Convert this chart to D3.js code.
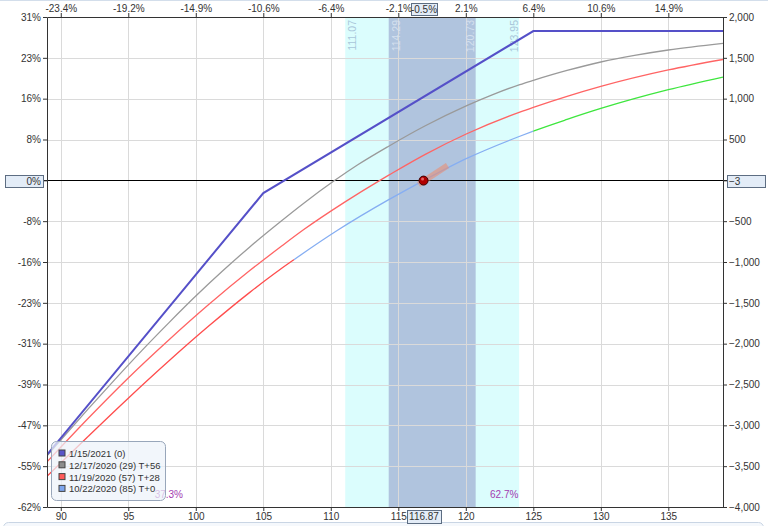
<!DOCTYPE html>
<html><head><meta charset="utf-8">
<script src="https://cdn.jsdelivr.net/npm/d3@7"></script>
<style>body{margin:0;background:#fff;} svg{display:block;font-family:"Liberation Sans",Arial,sans-serif;}</style>
</head><body><svg id="c" width="768" height="526"></svg>
<script>
// ---- data ----
const priceTicks = [90,95,100,105,110,115,120,125,130,135];
const topTickLabels = ["-23.4%","-19.2%","-14.9%","-10.6%","-6.4%","-2.1%","2.1%","6.4%","10.6%","14.9%"];
const pnlTicks = [2000,1500,1000,500,0,-500,-1000,-1500,-2000,-2500,-3000,-3500,-4000];
const pctTickLabels = ["31%","23%","16%","8%","0%","-8%","-16%","-23%","-31%","-39%","-47%","-55%","-62%"];

const expPrices = [89, 105, 125, 139.05];
const expValues = [-3356, -156, 1828, 1828];

const t56Prices = [89, 90, 92, 94, 96, 98, 100, 102, 104, 106.24, 108, 110.3, 112, 114.26, 117, 120.07, 122, 124, 125, 127.5, 130, 132.5, 135, 139.05];
const t56Values = [-3370, -3180, -2805, -2440, -2085, -1745, -1417, -1108, -815, -510, -280, 0, 190, 415, 668, 915, 1050, 1172, 1224, 1345, 1449, 1530, 1596, 1677];

const t28Prices = [89, 92, 95, 98, 101, 104, 106.24, 108, 111, 113.64, 114.26, 117, 120.07, 124, 125, 127.5, 130, 135, 139.05];
const t28Values = [-3445, -2920, -2420, -1955, -1515, -1105, -820, -603, -270, 0, 60, 318, 570, 835, 893, 1028, 1150, 1352, 1480];

const t0Prices = [89, 92, 95, 98, 101, 104, 106.24, 107.27, 110.5, 114.26, 116.87, 120.07, 124, 125, 127.5, 130, 135, 139.05];
const t0Values = [-3620, -3140, -2668, -2213, -1779, -1372, -1092, -972, -612, -240, -3, 268, 540, 603, 746, 880, 1110, 1265];
const t0ColorBreaks = [107.27, 125];

const sd1 = [114.29, 120.73];
const sd2 = [111.07, 123.95];
const currentPrice = 116.87;
const currentPnl = -3;
const currentPct = "-0.5%";
const currentPctLeft = "0%";
const probBelow = "37.3%";
const probAbove = "62.7%";

const legendLabels = ["1/15/2021 (0)","12/17/2020 (29) T+56","11/19/2020 (57) T+28","10/22/2020 (85) T+0"];
const legendColors = ["#5a55c8","#8c8c8c","#ff5a5a","#7ea6ee"];

// ---- drawing ----
const svg = d3.select("#c");
const L = 47, R = 723, T = 17, B = 507;
const x = d3.scaleLinear().domain([88.98, 139.05]).range([L, R]);
const y = d3.scaleLinear().domain([-4000, 2000]).range([B, T]);

// decorative frame bits
svg.append("line").attr("x1",0).attr("x2",768).attr("y1",0.5).attr("y2",0.5).attr("stroke","#d3deeb");
svg.append("rect").attr("x",3.5).attr("y",522.5).attr("width",760).attr("height",12).attr("rx",5)
  .attr("fill","#f5f8fc").attr("stroke","#c9d5e4");

// bands
svg.append("rect").attr("x",x(sd2[0])).attr("y",T).attr("width",x(sd2[1])-x(sd2[0])).attr("height",B-T).attr("fill","#dbfdfd");
svg.append("rect").attr("x",x(sd1[0])).attr("y",T).attr("width",x(sd1[1])-x(sd1[0])).attr("height",B-T).attr("fill","#b0c4de");

// grid
const grid = svg.append("g").attr("stroke","#dadada").attr("stroke-width",1);
priceTicks.forEach(p => grid.append("line").attr("x1",Math.round(x(p))+0.5).attr("x2",Math.round(x(p))+0.5).attr("y1",T).attr("y2",B));
pnlTicks.forEach(v => grid.append("line").attr("x1",L).attr("x2",R).attr("y1",Math.round(y(v))+0.5).attr("y2",Math.round(y(v))+0.5));

// band labels
const bandLabels = [
  {v: sd2[0], side: "l", c: "#a9c6da"},
  {v: sd1[0], side: "l", c: "#d4e0ee"},
  {v: sd1[1], side: "r", c: "#d4e0ee"},
  {v: sd2[1], side: "r", c: "#a9c6da"}
];
bandLabels.forEach(b => {
  const bx = b.side === "l" ? x(b.v) + 11 : x(b.v) - 1.5;
  svg.append("text").attr("transform",`translate(${bx},20) rotate(-90)`)
    .attr("text-anchor","end").attr("font-size",10.5).attr("fill",b.c).text(b.v.toFixed(2));
});

// zero line
svg.append("line").attr("x1",43).attr("x2",727).attr("y1",Math.round(y(0))+0.5).attr("y2",Math.round(y(0))+0.5)
  .attr("stroke","#000").attr("stroke-width",1);

// lines
const line = d3.line().x(d => x(d[0])).y(d => y(d[1])).curve(d3.curveMonotoneX);
const defs = svg.append("defs");
defs.append("clipPath").attr("id","plot").append("rect").attr("x",L).attr("y",T).attr("width",R-L).attr("height",B-T);
const plot = svg.append("g").attr("clip-path","url(#plot)");

const zip = (a,b) => a.map((p,i)=>[p,b[i]]);

// T+0 segmented by colour
const segs = [
  {id:"s0", x0: x.domain()[0], x1: t0ColorBreaks[0], c:"#ff4d4d"},
  {id:"s1", x0: t0ColorBreaks[0], x1: t0ColorBreaks[1], c:"#86aef2"},
  {id:"s2", x0: t0ColorBreaks[1], x1: x.domain()[1], c:"#3ee63e"}
];
segs.forEach(s => {
  defs.append("clipPath").attr("id",s.id).append("rect")
    .attr("x",x(s.x0)).attr("y",T).attr("width",x(s.x1)-x(s.x0)).attr("height",B-T);
  plot.append("g").attr("clip-path",`url(#${s.id})`).append("path")
    .attr("d",line(zip(t0Prices,t0Values))).attr("fill","none").attr("stroke",s.c).attr("stroke-width",1.3);
});
plot.append("path").attr("d",line(zip(t28Prices,t28Values))).attr("fill","none").attr("stroke","#ff6464").attr("stroke-width",1.3);
plot.append("path").attr("d",line(zip(t56Prices,t56Values))).attr("fill","none").attr("stroke","#9a9a9a").attr("stroke-width",1.3);
plot.append("path").attr("d",d3.line().x(d=>x(d[0])).y(d=>y(d[1]))(zip(expPrices,expValues)))
  .attr("fill","none").attr("stroke","#5550c8").attr("stroke-width",2);

// current marker
const cx = x(currentPrice), cy = y(currentPnl);
svg.append("line").attr("x1",cx-5).attr("y1",cy+4).attr("x2",cx+24).attr("y2",cy-15)
  .attr("stroke","#f08a6a").attr("stroke-opacity",0.55).attr("stroke-width",6).attr("stroke-linecap","butt");
svg.append("circle").attr("cx",cx).attr("cy",cy).attr("r",4.5).attr("fill","#b00000").attr("stroke","#3a0000").attr("stroke-width",1);
svg.append("circle").attr("cx",cx-1).attr("cy",cy-1.5).attr("r",1.5).attr("fill","#ff8a8a").attr("opacity",0.7);

// axes
function styleAxis(g){
  g.selectAll("path.domain").attr("stroke","#333");
  g.selectAll(".tick line").attr("stroke","#333");
  g.selectAll(".tick text").attr("fill","#333").attr("font-size",10).attr("font-family","Liberation Sans, Arial, sans-serif");
}
const gl = svg.append("g").attr("transform",`translate(${L},0)`)
  .call(d3.axisLeft(y).tickValues(pnlTicks).tickFormat((d,i)=>pctTickLabels[i]).tickSize(4).tickSizeOuter(0).tickPadding(2));
styleAxis(gl);
const gr = svg.append("g").attr("transform",`translate(${R},0)`)
  .call(d3.axisRight(y).tickValues(pnlTicks).tickFormat(d3.format(",")).tickSize(4).tickSizeOuter(0).tickPadding(2));
styleAxis(gr);
const gb = svg.append("g").attr("transform",`translate(0,${B})`)
  .call(d3.axisBottom(x).tickValues(priceTicks).tickFormat(d3.format("d")).tickSize(4).tickSizeOuter(0).tickPadding(2));
styleAxis(gb);
const gt = svg.append("g").attr("transform",`translate(0,${T})`)
  .call(d3.axisTop(x).tickValues(priceTicks).tickFormat((d,i)=>topTickLabels[i]).tickSize(4).tickSizeOuter(0).tickPadding(1));
styleAxis(gt);
gl.selectAll(".tick").filter(d=>d===0).select("text").attr("opacity",0);
gr.selectAll(".tick").filter(d=>d===0).select("text").attr("opacity",0);

// value boxes
function box(bx, by, w, h, txt, anchor){
  svg.append("rect").attr("x",bx+0.5).attr("y",by+0.5).attr("width",w).attr("height",h)
    .attr("fill","#e3ecf7").attr("stroke","#5d6d82").attr("stroke-width",1);
  const tx = anchor==="end" ? bx+w-2 : anchor==="middle" ? bx+w/2 : bx+2;
  svg.append("text").attr("x",tx).attr("y",by+h/2+3.6).attr("text-anchor",anchor)
    .attr("font-size",10).attr("fill","#333").text(txt);
}
box(5, Math.round(cy)-6, 38, 12, currentPctLeft, "end");
box(727, Math.round(cy)-6, 38, 12, d3.format(",")(currentPnl), "start");
box(Math.round(cx)-13, 3, 26, 12, currentPct, "middle");
box(Math.round(cx)-17, 510, 34, 13, currentPrice.toFixed(2), "middle");

// probabilities
svg.append("text").attr("x",183).attr("y",498).attr("text-anchor","end").attr("font-size",10).attr("fill","#a33ab0").text(probBelow);
svg.append("text").attr("x",490).attr("y",498).attr("text-anchor","start").attr("font-size",10).attr("fill","#a33ab0").text(probAbove);

// legend
const lg = svg.append("g").attr("transform","translate(51.5,441.5)");
lg.append("rect").attr("width",114).attr("height",59).attr("rx",5)
  .attr("fill","#edf2fa").attr("fill-opacity",0.72).attr("stroke","#98a6ba");
legendLabels.forEach((t,i) => {
  const ry = 12 + i*11.8;
  lg.append("rect").attr("x",7.5).attr("y",ry-3.5).attr("width",6).attr("height",6)
    .attr("fill",legendColors[i]).attr("stroke","#444").attr("stroke-width",1);
  lg.append("text").attr("x",17.5).attr("y",ry+3.5).attr("font-size",9.5).attr("fill","#333").text(t);
});
</script></body></html>
